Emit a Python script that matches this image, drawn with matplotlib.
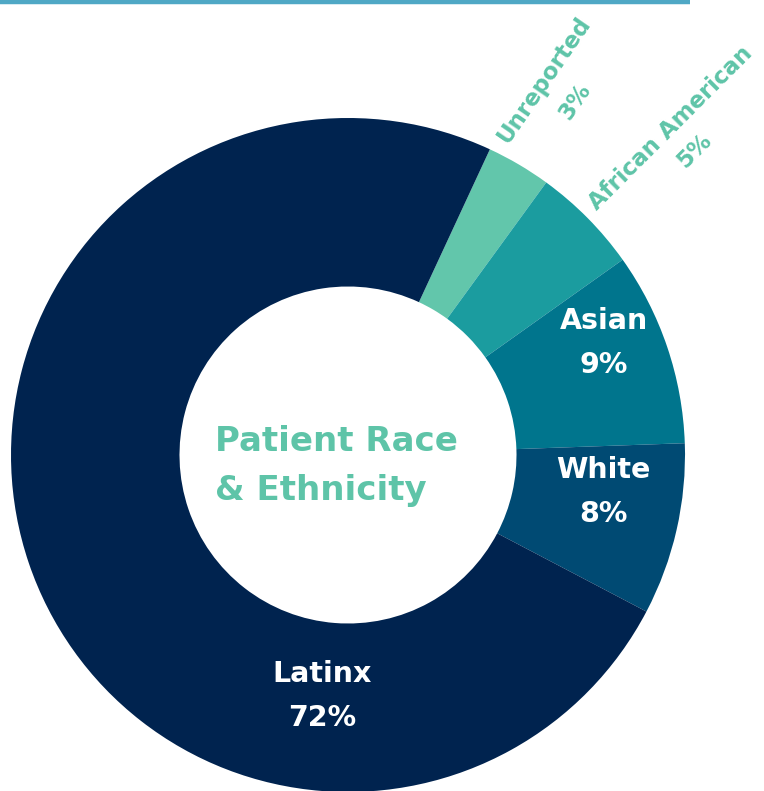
import matplotlib.pyplot as plt
from matplotlib.lines import Line2D

# Patient race & ethnicity shares (percent, as printed on the chart)
groups = ["Unreported", "African American", "Asian", "White", "Latinx"]
shares = [3, 5, 9, 8, 72]
colors = ["#62C6AB", "#1B9C9F", "#00758D", "#004A73", "#00234F"]

TEAL = "#5EC4A8"
W, H = 764, 791

plt.rcParams['font.family'] = ['DejaVu Sans']

fig = plt.figure(figsize=(W / 100, H / 100), dpi=100)
ax = fig.add_axes([0, 0, 1, 1])

# donut, drawn in pixel space (y measured from the bottom)
cx, cy, r = 348, H - 455, 337
start = 90 - 24.9
ax.pie(shares, colors=colors, startangle=start, counterclock=False,
       center=(cx, cy), radius=r, frame=True,
       wedgeprops=dict(width=r * 0.5, linewidth=0))
ax.set_xlim(0, W)
ax.set_ylim(0, H)
ax.set_aspect('equal')
ax.axis('off')

# thin rule across the top
ax.add_line(Line2D([0, 690], [H - 2, H - 2], color="#4FA8C5", linewidth=3.2,
                   solid_capstyle='butt'))

# centre title
ax.text(215, H - 466, "Patient Race\n& Ethnicity", color=TEAL, fontsize=24.5,
        fontweight='bold', ha='left', va='center', multialignment='left',
        linespacing=1.65)

# labels inside the slices
inner = [("Asian", 604, 343), ("White", 603, 492), ("Latinx", 322, 696)]
for name, x, y in inner:
    pct = shares[groups.index(name)]
    ax.text(x, H - y, f"{name}\n{pct}%", color="white", fontsize=20.5,
            fontweight='bold', ha='center', va='center', linespacing=1.75)

# rotated labels outside the small slices: name line, then percent line
outer = [("Unreported", (544, 80), (575, 101), 55.5),
         ("African American", (671, 128), (694, 151), 45)]
for name, (x1, y1), (x2, y2), rot in outer:
    pct = shares[groups.index(name)]
    for txt, x, y in [(name, x1, y1), (f"{pct}%", x2, y2)]:
        ax.text(x, H - y, txt, color=TEAL, fontsize=16.5, fontweight='bold',
                ha='center', va='center', rotation=rot,
                rotation_mode='anchor')

fig.savefig("out.png", dpi=100)
